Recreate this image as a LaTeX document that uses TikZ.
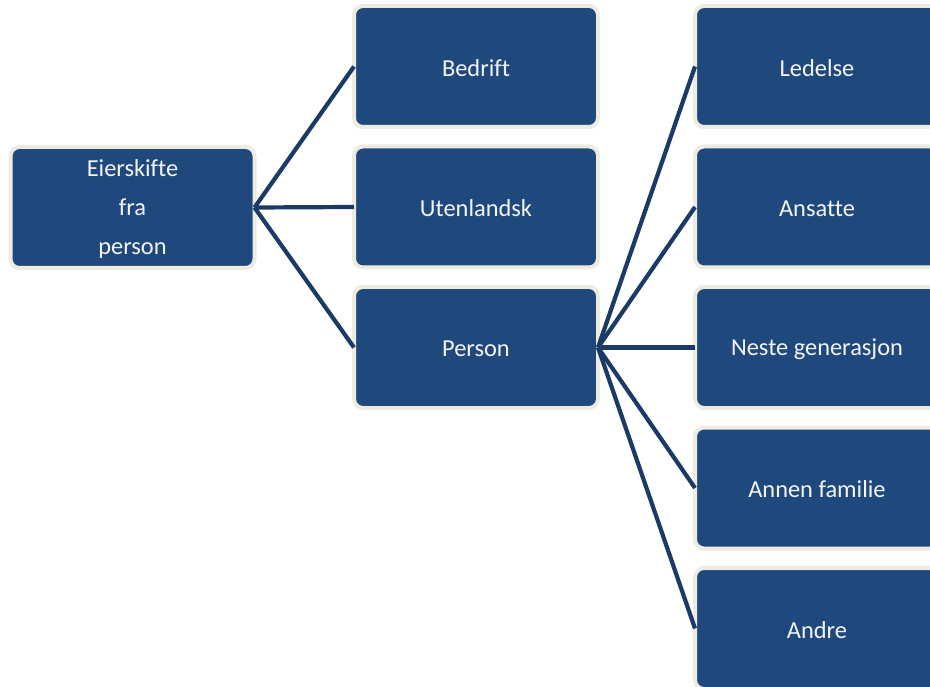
\documentclass[tikz,border=0pt]{standalone}
\usepackage{fontspec}
\setmainfont[Ligatures={NoCommon}]{Carlito}
\definecolor{boxblue}{HTML}{1F497D}
\definecolor{boxrim}{HTML}{EEECE1}
\definecolor{linkblue}{HTML}{1B3A66}
\definecolor{boxtext}{HTML}{F4F4F4}
\begin{document}
\begin{tikzpicture}[x=1pt,y=-1pt,
  card/.style={draw=boxrim, line width=4pt, fill=boxblue, rounded corners=9pt,
    minimum width=244pt, minimum height=121pt, inner sep=0pt, outer sep=0pt,
    text=boxtext, align=center, font=\fontsize{24.4}{39}\selectfont},
  lbl/.style={text=boxtext, align=center, font=\fontsize{24.4}{39}\selectfont, inner sep=0pt},
  link/.style={draw=linkblue, line width=4.2pt}]
\clip (0,0) rectangle (930,687);
\useasboundingbox (0,0) rectangle (930,687);
\fill[white] (0,0) rectangle (930,687);
\node[card] (e) at (132.5,207.5) {};
\node[card] (b) at (476,66.5) {};
\node[card] (u) at (476,207) {};
\node[card] (p) at (476,347.5) {};
\node[card] (r1) at (817,66.5) {};
\node[card] (r2) at (817,207) {};
\node[card] (r3) at (817,347.5) {};
\node[card] (r4) at (817,488) {};
\node[card] (r5) at (817,628.5) {};
\node[lbl] (te) at ([yshift=-1.5pt]e.center) {Eierskifte\\fra\\person};
\node[lbl] (tb) at ([yshift=-1.5pt]b.center) {Bedrift};
\node[lbl] (tu) at ([yshift=-1.5pt]u.center) {Utenlandsk};
\node[lbl] (tp) at ([yshift=-1.5pt]p.center) {Person};
\node[lbl] (t1) at ([yshift=-1.5pt]r1.center) {Ledelse};
\node[lbl] (t2) at ([yshift=-1.5pt]r2.center) {Ansatte};
\node[lbl] (t3) at ([yshift=-1.5pt]r3.center) {Neste generasjon};
\node[lbl] (t4) at ([yshift=-1.5pt]r4.center) {Annen familie};
\node[lbl] (t5) at ([yshift=-1.5pt]r5.center) {Andre};
\draw[link] (e.east) -- (b.west);
\draw[link] (e.east) -- (u.west);
\draw[link] (e.east) -- (p.west);
\draw[link] (p.east) -- (r1.west);
\draw[link] (p.east) -- (r2.west);
\draw[link] (p.east) -- (r3.west);
\draw[link] (p.east) -- (r4.west);
\draw[link] (p.east) -- (r5.west);
\end{tikzpicture}
\end{document}
